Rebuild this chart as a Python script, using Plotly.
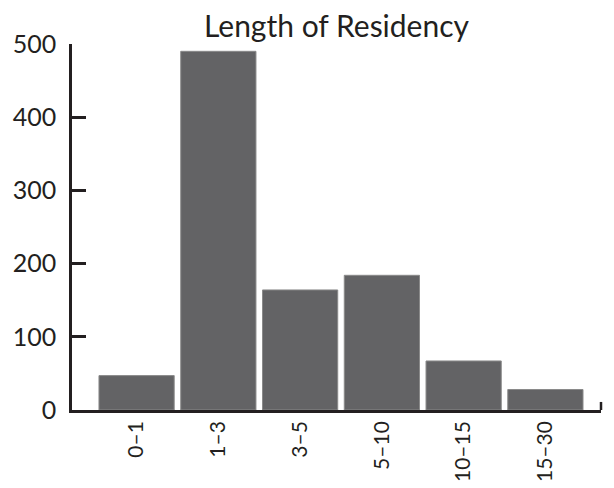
import plotly.graph_objects as go

categories = ["0–1", "1–3", "3–5", "5–10", "10–15", "15–30"]
counts = [47, 490, 164, 184, 67, 28]
y_ticks = [0, 100, 200, 300, 400, 500]
title_text = "Length of Residency"

ink = "#231f20"
bar_color = "#636365"
font_family = "Lato, Open Sans, sans-serif"

fig = go.Figure()
fig.add_trace(go.Bar(
    x=categories,
    y=counts,
    marker=dict(color=bar_color, line=dict(color="#8a8a8a", width=1)),
))

# page body has an 8px margin, so the figure is sized to fit inside the window
fig.update_layout(
    width=606,
    height=480,
    margin=dict(l=64, r=13, t=36, b=78, autoexpand=False),
    paper_bgcolor="white",
    plot_bgcolor="white",
    bargap=0.08,
    showlegend=False,
    font=dict(family=font_family, color=ink, size=24),
    title=dict(
        text=title_text,
        x=0.5,
        xref="paper",
        xanchor="center",
        y=1,
        yref="paper",
        yanchor="bottom",
        pad=dict(b=7),
        font=dict(size=30, color=ink, family=font_family),
    ),
)

fig.update_xaxes(
    type="category",
    range=[-0.79, 5.68],
    automargin=False,
    showline=True,
    linecolor=ink,
    linewidth=2.5,
    ticks="",
    tickangle=-90,
    showgrid=False,
    zeroline=False,
    tickfont=dict(size=21, color=ink),
    ticklabelstandoff=0,
)

fig.update_yaxes(
    range=[0, 500],
    automargin=False,
    tickvals=y_ticks,
    showline=True,
    linecolor=ink,
    linewidth=2.5,
    ticks="inside",
    ticklen=14,
    tickwidth=2.5,
    tickcolor=ink,
    showgrid=False,
    zeroline=False,
    tickfont=dict(size=25, color=ink),
    ticklabelstandoff=8,
)

# small upward tick at the right end of the x axis
fig.add_shape(
    type="line", xref="paper", yref="y",
    x0=1, x1=1, y0=0, y1=11,
    line=dict(color=ink, width=2.5),
)

fig.write_html("out.html")
